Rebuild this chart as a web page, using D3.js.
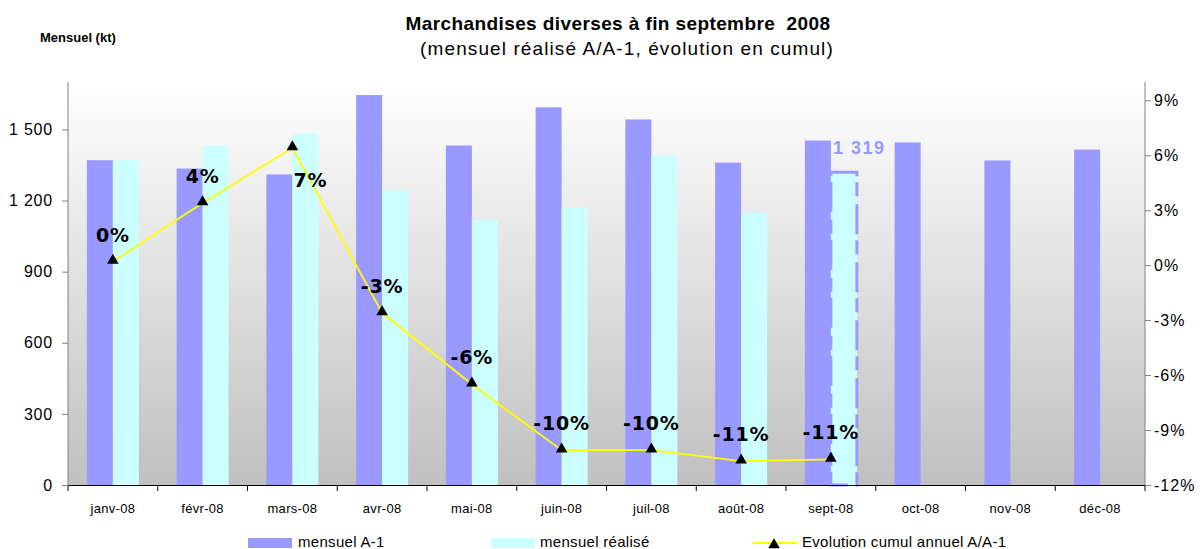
<!DOCTYPE html>
<html>
<head>
<meta charset="utf-8">
<script src="https://cdn.jsdelivr.net/npm/d3@7"></script>
<style>
  body { margin: 0; background: #fff; }
  text { font-family: "Liberation Sans", Arial, sans-serif; }
</style>
</head>
<body>
<script>
const months = ["janv-08", "févr-08", "mars-08", "avr-08", "mai-08", "juin-08",
                "juil-08", "août-08", "sept-08", "oct-08", "nov-08", "déc-08"];
const prevYear = [1370, 1335, 1310, 1645, 1432, 1593, 1542, 1360, 1453, 1445, 1369, 1415];
const realised = [1370, 1432, 1483, 1242, 1120, 1170, 1390, 1149, 1319, null, null, null];
const cumulEvol = [0.2, 3.4, 6.4, -2.6, -6.5, -10.1, -10.1, -10.7, -10.6];
const cumulLabels = ["0%", "4%", "7%", "-3%", "-6%", "-10%", "-10%", "-11%", "-11%"];
const leftTicks = [0, 300, 600, 900, 1200, 1500];
const rightTicks = [-12, -9, -6, -3, 0, 3, 6, 9];

const W = 1203, H = 549;
const margin = { top: 82, right: 58, bottom: 64, left: 68 };
const width = W - margin.left - margin.right;
const height = H - margin.top - margin.bottom;

const svg = d3.select("body").append("svg")
  .attr("width", W).attr("height", H);

// background gradient
const grad = svg.append("defs").append("linearGradient")
  .attr("id", "bg").attr("x1", 0).attr("y1", 0).attr("x2", 0).attr("y2", 1);
grad.append("stop").attr("offset", "0%").attr("stop-color", "#ffffff");
grad.append("stop").attr("offset", "100%").attr("stop-color", "#c0c0c0");

const g = svg.append("g")
  .attr("transform", "translate(" + margin.left + "," + margin.top + ")");

g.append("rect").attr("width", width).attr("height", height).attr("fill", "url(#bg)");

const x = d3.scaleBand().domain(months).range([0, width]).padding(0);
const x1 = d3.scaleBand().domain(["a1", "real"])
  .range([x.bandwidth() / 2 - 26, x.bandwidth() / 2 + 26]);
const y = d3.scaleLinear().domain([0, 1700]).range([height, 0]);
const yR = d3.scaleLinear().domain([-12, 10]).range([height, 0]);

// bars
g.selectAll(".a1").data(months).enter().append("rect")
  .attr("x", d => x(d) + x1("a1"))
  .attr("width", x1.bandwidth())
  .attr("y", (d, i) => y(prevYear[i]))
  .attr("height", (d, i) => height - y(prevYear[i]))
  .attr("fill", "#9999ff");

const realData = months.map((m, i) => ({ m: m, v: realised[i], i: i })).filter(d => d.v != null);
g.selectAll(".real").data(realData).enter().append("rect")
  .attr("x", d => x(d.m) + x1("real"))
  .attr("width", x1.bandwidth())
  .attr("y", d => y(d.v))
  .attr("height", d => height - y(d.v))
  .attr("fill", "#ccffff")
  .attr("stroke", d => d.i === 8 ? "#9999ff" : "none")
  .attr("stroke-width", 3)
  .attr("stroke-dasharray", d => d.i === 8 ? "30 6 14 8" : null);

// label for last realised value
const last = realData[realData.length - 1];
g.append("text")
  .attr("x", x(last.m) + x1("real") + 2)
  .attr("y", y(last.v) - 18)
  .attr("fill", "#9999ff")
  .attr("font-size", 18).attr("font-weight", "bold").attr("letter-spacing", 1.5)
  .text(d3.format(",")(last.v).replace(",", " "));

// axes
const axisColor = "#808080";
const xAxis = g.append("g").attr("transform", "translate(0," + height + ")")
  .call(d3.axisBottom(x).tickSize(0).tickPadding(19));
xAxis.select(".domain").attr("stroke", "#000");
xAxis.selectAll("text").attr("font-size", 13).attr("fill", "#000").attr("letter-spacing", 0.3);
xAxis.selectAll(".bnd").data(d3.range(months.length + 1)).enter().append("line")
  .attr("x1", d => d * x.bandwidth()).attr("x2", d => d * x.bandwidth())
  .attr("y1", 0).attr("y2", 6).attr("stroke", "#000");

const yAxis = g.append("g")
  .call(d3.axisLeft(y).tickValues(leftTicks).tickSize(6).tickPadding(9)
    .tickFormat(d => d3.format(",")(d).replace(",", " ")));
yAxis.select(".domain").attr("stroke", axisColor).attr("d", "M0,0V" + height);
yAxis.selectAll("line").attr("stroke", axisColor);
yAxis.selectAll("text").attr("font-size", 16).attr("fill", "#000").attr("letter-spacing", 0.8);

const yAxisR = g.append("g").attr("transform", "translate(" + width + ",0)")
  .call(d3.axisRight(yR).tickValues(rightTicks).tickSize(6).tickPadding(3)
    .tickFormat(d => d + "%"));
yAxisR.select(".domain").attr("stroke", axisColor).attr("d", "M0,0V" + height);
yAxisR.selectAll("line").attr("stroke", axisColor);
yAxisR.selectAll("text").attr("font-size", 16).attr("fill", "#000").attr("letter-spacing", 1);

// line
const cx = i => x(months[i]) + x.bandwidth() / 2;
const line = d3.line().x((d, i) => cx(i)).y(d => yR(d));
g.append("path").datum(cumulEvol).attr("d", line)
  .attr("fill", "none").attr("stroke", "#ffff00").attr("stroke-width", 1.8);

const tri = d3.symbol().type(d3.symbolTriangle).size(58);
g.selectAll(".mk").data(cumulEvol).enter().append("path")
  .attr("d", tri)
  .attr("transform", (d, i) => "translate(" + cx(i) + "," + (yR(d) - 1) + ")")
  .attr("fill", "#000");

g.selectAll(".lbl").data(cumulEvol).enter().append("text")
  .attr("x", (d, i) => cx(i) + (i === 2 ? 18 : 0))
  .attr("y", (d, i) => i === 2 ? yR(d) + 39 : yR(d) - 20)
  .attr("text-anchor", "middle")
  .style("font-family", "'DejaVu Sans', Verdana, sans-serif")
  .attr("font-size", 19).attr("font-weight", "bold").attr("letter-spacing", 0.8)
  .text((d, i) => cumulLabels[i]);

// titles
svg.append("text").attr("x", 618).attr("y", 30).attr("text-anchor", "middle")
  .attr("font-size", 19).attr("font-weight", "bold").attr("letter-spacing", 0.4)
  .style("white-space", "pre")
  .text("Marchandises diverses à fin septembre  2008");
svg.append("text").attr("x", 627).attr("y", 55).attr("text-anchor", "middle")
  .attr("font-size", 19).attr("letter-spacing", 1.1)
  .text("(mensuel réalisé A/A-1, évolution en cumul)");
svg.append("text").attr("x", 40).attr("y", 42)
  .attr("font-size", 13).attr("font-weight", "bold").text("Mensuel (kt)");

// legend
const leg = svg.append("g").attr("transform", "translate(0,543)");
leg.append("rect").attr("x", 248).attr("y", -5).attr("width", 44).attr("height", 10).attr("fill", "#9999ff");
leg.append("text").attr("x", 298).attr("y", 4).attr("font-size", 15).attr("letter-spacing", 0.3).text("mensuel A-1");
leg.append("rect").attr("x", 491).attr("y", -5).attr("width", 44).attr("height", 10).attr("fill", "#ccffff");
leg.append("text").attr("x", 540).attr("y", 4).attr("font-size", 15).attr("letter-spacing", 0.3).text("mensuel réalisé");
leg.append("line").attr("x1", 753).attr("x2", 797).attr("y1", 0).attr("y2", 0)
  .attr("stroke", "#ffff00").attr("stroke-width", 1.8);
leg.append("path").attr("d", tri).attr("transform", "translate(774,2)").attr("fill", "#000");
leg.append("text").attr("x", 802).attr("y", 4).attr("font-size", 15).attr("letter-spacing", 0.3).text("Evolution cumul annuel A/A-1");
</script>
</body>
</html>
